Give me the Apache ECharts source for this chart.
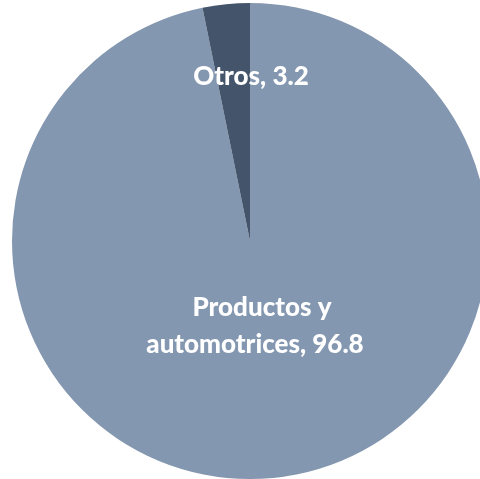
<!DOCTYPE html>
<html>
<head>
<meta charset="utf-8">
<style>
  html, body { margin: 0; padding: 0; background: #ffffff; }
  #chart { width: 480px; height: 479px; }
</style>
<script src="https://cdn.jsdelivr.net/npm/echarts@6/dist/echarts.min.js"></script>
</head>
<body>
<div id="chart"></div>
<script>
// Share of exports by category (percent)
const categories = ['Productos y automotrices', 'Otros'];
const values = [96.8, 3.2];
const colors = ['#8497B0', '#44546A'];

// Label anchor points inside each slice
const labelSpots = [
  { x: 255, y: 326 },
  { x: 251, y: 77 }
];

const chart = echarts.init(document.getElementById('chart'), null, { renderer: 'canvas' });

const textStyle = {
  color: '#ffffff',
  fontFamily: 'Lato',
  fontWeight: 900,
  fontSize: 26,
  lineHeight: 37
};

chart.setOption({
  animation: false,
  series: [{
    type: 'pie',
    center: [250, 241],
    radius: 238,
    startAngle: 90,
    clockwise: true,
    avoidLabelOverlap: false,
    data: categories.map((name, i) => ({
      name: name,
      value: values[i],
      itemStyle: { color: colors[i] }
    })),
    label: Object.assign({
      show: true,
      position: 'inside',
      align: 'center',
      verticalAlign: 'middle',
      formatter: p => p.dataIndex === 0
        ? '{first|Productos y}\n{t|automotrices, ' + p.value + '}'
        : '{t|' + p.name + ', ' + p.value + '}',
      rich: {
        first: Object.assign({ padding: [0, 0, 0, 14] }, textStyle),
        t: Object.assign({}, textStyle)
      }
    }, textStyle),
    labelLine: { show: false },
    labelLayout: p => ({
      x: labelSpots[p.dataIndex].x,
      y: labelSpots[p.dataIndex].y,
      align: 'center',
      verticalAlign: 'middle'
    }),
    emphasis: { disabled: true }
  }]
});
</script>
</body>
</html>
